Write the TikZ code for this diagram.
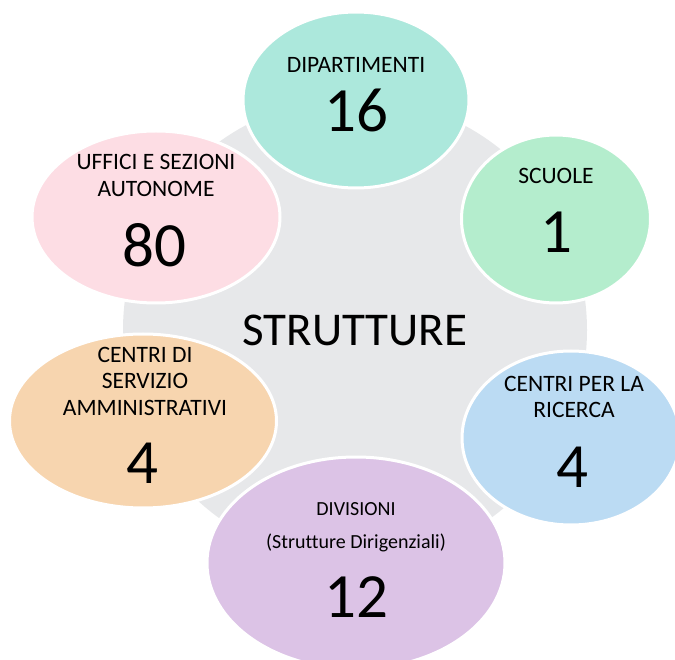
\documentclass[tikz,border=0pt]{standalone}
\usepackage{fontspec}
\setmainfont{Carlito}[Ligatures=NoCommon]
\usepackage{tikz}
\usetikzlibrary{shapes}
\usepackage{xcolor}

\definecolor{ringgrey}{RGB}{231,232,234}
\definecolor{dipcol}{RGB}{172,232,220}
\definecolor{scucol}{RGB}{180,237,205}
\definecolor{uffcol}{RGB}{253,221,228}
\definecolor{csacol}{RGB}{247,213,175}
\definecolor{riccol}{RGB}{187,219,243}
\definecolor{divcol}{RGB}{220,195,230}

\begin{document}
\begin{tikzpicture}[x=1pt, y=-1pt,
    blob/.style={ellipse, draw=white, line width=3pt, inner sep=0},
    lbl/.style={font=\fontsize{23.5}{26.5}\selectfont, align=center, inner sep=0},
    small/.style={font=\fontsize{20}{22}\selectfont, inner sep=0},
    num/.style={font=\fontsize{63}{63}\selectfont, inner sep=0}]
            \clip (0,0) rectangle (675,660);
            \fill[white] (0,0) rectangle (675,660);
            % central disc
            \node[circle, fill=ringgrey, inner sep=0, minimum size=464pt] (core) at (355,330) {};
            \node[font=\fontsize{47}{47}\selectfont, inner sep=0] (coret) at (355,330) {STRUTTURE};
            % outer ellipses
            \node[blob, fill=dipcol, minimum width=226pt, minimum height=176pt] (dip) at (356,100) {};
            \node[blob, fill=scucol, minimum width=189pt, minimum height=168pt] (scu) at (556,219) {};
            \node[blob, fill=uffcol, minimum width=248pt, minimum height=172pt] (uff) at (156,217) {};
            \node[blob, fill=csacol, minimum width=267pt, minimum height=174pt] (csa) at (143,421) {};
            \node[blob, fill=riccol, minimum width=218pt, minimum height=174pt] (ric) at (571,438) {};
            \node[blob, fill=divcol, minimum width=298pt, minimum height=212pt] (div) at (356,563) {};
            % labels
            \node[lbl] (dipl) at (356,65) {DIPARTIMENTI};
            \node[num] (dipn) at (356,110) {16};
            \node[lbl] (scul) at (556,176) {SCUOLE};
            \node[num] (scun) at (556,232) {1};
            \node[lbl] (uffl) at (156,175.5) {UFFICI E SEZIONI\\AUTONOME};
            \node[num] (uffn) at (154,245) {80};
            \node[lbl] (csal) at (145,381) {CENTRI DI\\SERVIZIO\\AMMINISTRATIVI};
            \node[num] (csan) at (142,463) {4};
            \node[lbl] (ricl) at (574,397) {CENTRI PER LA\\RICERCA};
            \node[num] (ricn) at (572,467) {4};
            \node[small] (divl) at (356,509) {DIVISIONI};
            \node[small] (divs) at (356,543) {(Strutture Dirigenziali)};
            \node[num] (divn) at (356,597) {12};
\end{tikzpicture}
\end{document}
